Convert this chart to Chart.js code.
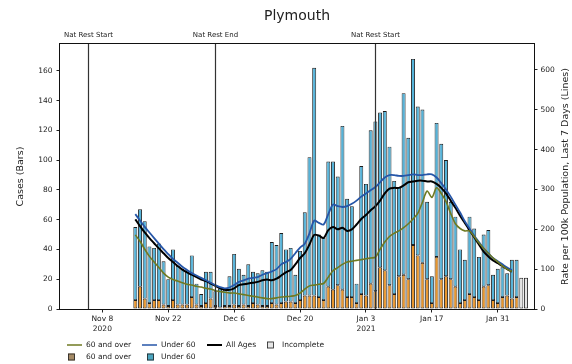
<!DOCTYPE html>
<html lang="en">
<head>
<meta charset="UTF-8">
<title>Plymouth</title>
<script src="https://cdn.jsdelivr.net/npm/chart.js"></script>
<style>
  body { margin: 0; background: #fff; }
  #wrap { position: relative; width: 572px; height: 364px; }
</style>
</head>
<body>
<div id="wrap"><canvas id="plymouthChart"></canvas></div>
<script>
// daily specimen dates (complete days)
const dates = [
  '2020-11-15','2020-11-16','2020-11-17','2020-11-18','2020-11-19','2020-11-20','2020-11-21','2020-11-22',
  '2020-11-23','2020-11-24','2020-11-25','2020-11-26','2020-11-27','2020-11-28','2020-11-29','2020-11-30',
  '2020-12-01','2020-12-02','2020-12-03','2020-12-04','2020-12-05','2020-12-06','2020-12-07','2020-12-08',
  '2020-12-09','2020-12-10','2020-12-11','2020-12-12','2020-12-13','2020-12-14','2020-12-15','2020-12-16',
  '2020-12-17','2020-12-18','2020-12-19','2020-12-20','2020-12-21','2020-12-22','2020-12-23','2020-12-24',
  '2020-12-25','2020-12-26','2020-12-27','2020-12-28','2020-12-29','2020-12-30','2020-12-31','2021-01-01',
  '2021-01-02','2021-01-03','2021-01-04','2021-01-05','2021-01-06','2021-01-07','2021-01-08','2021-01-09',
  '2021-01-10','2021-01-11','2021-01-12','2021-01-13','2021-01-14','2021-01-15','2021-01-16','2021-01-17',
  '2021-01-18','2021-01-19','2021-01-20','2021-01-21','2021-01-22','2021-01-23','2021-01-24','2021-01-25',
  '2021-01-26','2021-01-27','2021-01-28','2021-01-29','2021-01-30','2021-01-31','2021-02-01','2021-02-02',
  '2021-02-03','2021-02-04'
];

// cases per day (bars)
const over60Cases = [6,15,7,4,6,6,3,2,6,3, 3,3,8,3,2,4,7,2,1,2, 2,3,2,3,2,4,3,2,2,4,
  3,4,5,5,4,6,9,9,9,8, 6,15,13,16,13,8,8,4,10,9, 17,12,28,26,16,10,22,23,20,43,
  36,31,20,4,35,20,22,20,15,4, 6,10,8,6,15,16,6,4,8,9, 7,8];
const under60Cases = [49,52,52,38,35,38,29,18,34,26, 24,23,28,14,8,21,18,10,13,11, 20,34,25,20,28,21,21,24,23,41,
  40,47,35,36,19,33,56,93,153,42, 42,84,86,73,110,66,61,13,86,75, 103,114,104,107,93,76,60,122,95,125,
  100,103,52,18,90,91,78,52,47,36, 27,52,46,29,35,37,17,23,20,15, 26,25];

// incomplete days
const incompleteDates = ['2021-02-05', '2021-02-06'];
const incompleteCases = [21, 21];

// rate per 100k, last 7 days (lines)
const over60Rate = [186,170,150,132,118,104,90,80,74,70, 66,62,60,57,55,52,50,46,44,42, 40,40,38,36,34,32,30,28,26,26,
  28,30,31,32,34,40,50,58,60,62, 64,80,96,104,112,118,120,122,124,126, 128,130,150,168,182,190,196,204,214,226,
  240,268,296,280,304,290,270,240,214,202, 196,196,182,166,152,140,128,118,108,100, 94,null];
const under60Rate = [238,222,206,192,178,164,150,138,126,116, 106,98,90,84,78,72,66,60,55,52, 54,60,68,72,76,78,80,86,90,94,
  100,112,118,126,140,154,164,190,222,216, 212,238,262,258,256,258,264,272,282,290, 298,306,318,330,336,336,334,334,336,338,
  336,336,338,338,330,316,300,282,262,242, 220,202,184,168,152,140,128,120,112,104, 98,null];
const allAgesRate = [225,208,192,178,165,152,140,128,118,108, 99,92,86,80,74,70,64,58,52,48, 48,52,60,62,64,66,68,72,74,72,
  76,84,92,98,112,128,140,162,186,184, 178,198,206,200,204,196,200,212,226,236, 248,258,272,290,302,304,304,310,318,320,
  322,322,320,320,314,304,290,272,254,234, 216,198,180,162,144,132,122,115,108,100, 94,null];

// axes
const xTickDates = ['2020-11-08','2020-11-22','2020-12-06','2020-12-20','2021-01-03','2021-01-17','2021-01-31'];
const xTickLabels = [['Nov 8','2020'], 'Nov 22', 'Dec 6', 'Dec 20', ['Jan 3','2021'], 'Jan 17', 'Jan 31'];
const caseTicks = [0,20,40,60,80,100,120,140,160];
const rateTicks = [0,100,200,300,400,500,600];

// national restrictions
const restrictionDates = ['2020-11-05', '2020-12-02', '2021-01-05'];
const restrictionLabels = ['Nat Rest Start', 'Nat Rest End', 'Nat Rest Start'];

const FONT = 'DejaVu Sans';
const TXT = '#222';
const colOver = '#e8962e';
const colUnder = '#55b3d9';
const colIncomplete = '#e6e6e6';
const lineOver = '#6f7a22';
const lineUnder = '#2656a8';

const dayNum = s => (Date.parse(s) - Date.parse('2020-11-08')) / 864e5;
const toPoints = (ds, arr) => arr.map((v, i) => ({x: dayNum(ds[i]), y: v}));

Chart.defaults.font.family = FONT;
Chart.defaults.color = TXT;

const decorations = {
  id: 'decorations',
  afterDatasetsDraw(chart) {
    const {ctx, chartArea: a, scales: {x}} = chart;
    ctx.save();
    // restriction lines and labels
    ctx.strokeStyle = '#333';
    ctx.lineWidth = 1.2;
    ctx.fillStyle = TXT;
    ctx.font = '7px ' + FONT;
    ctx.textAlign = 'center';
    ctx.textBaseline = 'middle';
    restrictionDates.forEach((d, i) => {
      const px = Math.round(x.getPixelForValue(dayNum(d))) + 0.5;
      ctx.beginPath();
      ctx.moveTo(px, a.top);
      ctx.lineTo(px, a.bottom);
      ctx.stroke();
      ctx.fillText(restrictionLabels[i], px, a.top - 9);
    });
    // frame
    ctx.strokeStyle = '#111';
    ctx.lineWidth = 1;
    ctx.strokeRect(a.left - 0.5, a.top - 0.5, a.right - a.left + 1, a.bottom - a.top + 1);
    ctx.restore();
  },
  afterDraw(chart) {
    const {ctx, chartArea: a} = chart;
    ctx.save();
    ctx.fillStyle = TXT;
    ctx.textBaseline = 'middle';
    // title
    ctx.textAlign = 'center';
    ctx.font = '14px ' + FONT;
    ctx.fillText('Plymouth', (a.left + a.right) / 2, 16);
    // axis titles
    const midY = (a.top + a.bottom) / 2;
    ctx.font = '9.5px ' + FONT;
    ctx.save();
    ctx.translate(21, midY);
    ctx.rotate(-Math.PI / 2);
    ctx.fillText('Cases (Bars)', 0, 0);
    ctx.restore();
    ctx.save();
    ctx.translate(566, midY);
    ctx.rotate(-Math.PI / 2);
    ctx.fillText('Rate per 100k Population, Last 7 Days (Lines)', 0, 0);
    ctx.restore();

    // legend
    ctx.font = '7.5px ' + FONT;
    ctx.textAlign = 'left';
    const r1 = 345, r2 = 357;
    const legLine = (x0, y, color, w, label) => {
      ctx.strokeStyle = color;
      ctx.lineWidth = w;
      ctx.beginPath();
      ctx.moveTo(x0, y);
      ctx.lineTo(x0 + 15, y);
      ctx.stroke();
      ctx.fillText(label, x0 + 19, y);
    };
    const legBox = (x0, y, color, label, tx) => {
      ctx.fillStyle = color;
      ctx.fillRect(x0, y - 3.5, 7, 7);
      ctx.strokeStyle = '#222';
      ctx.lineWidth = 0.8;
      ctx.strokeRect(x0 + 0.5, y - 3, 6, 6);
      ctx.fillStyle = TXT;
      ctx.fillText(label, tx, y);
    };
    legLine(67, r1, lineOver, 1.5, '60 and over');
    legLine(142, r1, lineUnder, 1.5, 'Under 60');
    legLine(207, r1, '#000', 2, 'All Ages');
    legBox(267, r1, colIncomplete, 'Incomplete', 282);
    legBox(68, r2, '#a48a66', '60 and over', 86);
    legBox(147, r2, '#4ba5bf', 'Under 60', 161);
    ctx.restore();
  }
};

const barCommon = {
  type: 'bar',
  yAxisID: 'y',
  stack: 'cases',
  borderColor: '#1c1c1c',
  borderWidth: 0.9,
  borderSkipped: false,
  barPercentage: 0.84,
  categoryPercentage: 1,
  order: 2
};
const lineCommon = {
  type: 'line',
  yAxisID: 'y1',
  pointRadius: 0,
  tension: 0.3,
  fill: false,
  order: 0
};

new Chart(document.getElementById('plymouthChart'), {
  type: 'bar',
  data: {
    datasets: [
      {...barCommon, label: '60 and over', data: toPoints(dates, over60Cases), backgroundColor: colOver},
      {...barCommon, label: 'Under 60', data: toPoints(dates, under60Cases), backgroundColor: colUnder},
      {...barCommon, label: 'Incomplete', data: toPoints(incompleteDates, incompleteCases), backgroundColor: colIncomplete},
      {...lineCommon, label: '60 and over', data: toPoints(dates, over60Rate), borderColor: lineOver, borderWidth: 1.6},
      {...lineCommon, label: 'Under 60', data: toPoints(dates, under60Rate), borderColor: lineUnder, borderWidth: 1.8},
      {...lineCommon, label: 'All Ages', data: toPoints(dates, allAgesRate), borderColor: '#000', borderWidth: 2}
    ]
  },
  options: {
    responsive: true,
    maintainAspectRatio: false,
    animation: false,
    devicePixelRatio: 1,
    layout: { padding: { top: 44, left: 0, right: 0, bottom: 0 } },
    plugins: { legend: { display: false }, tooltip: { enabled: false } },
    scales: {
      x: {
        type: 'linear',
        offset: false,
        min: dayNum('2020-10-30'),
        max: dayNum('2021-02-07') + 0.7,
        afterBuildTicks: s => { s.ticks = xTickDates.map(d => ({value: dayNum(d)})); },
        ticks: {
          autoSkip: false, maxRotation: 0, padding: 1.5, color: TXT,
          font: { size: 7.5, lineHeight: 1.3 },
          callback: (v, i) => xTickLabels[i]
        },
        grid: { offset: false, drawOnChartArea: false, tickLength: 3.5, tickColor: '#222' },
        border: { display: false },
        afterFit: s => { s.height = 55; }
      },
      y: {
        position: 'left',
        stacked: true,
        min: 0,
        max: 178,
        afterBuildTicks: s => { s.ticks = caseTicks.map(v => ({value: v})); },
        ticks: { padding: 4, color: TXT, font: { size: 7.5 } },
        grid: { drawOnChartArea: false, tickLength: 3.5, tickColor: '#222' },
        border: { display: false },
        afterFit: s => { s.width = 60; }
      },
      y1: {
        position: 'right',
        min: 0,
        max: 665,
        afterBuildTicks: s => { s.ticks = rateTicks.map(v => ({value: v})); },
        ticks: { padding: 3, color: TXT, font: { size: 7.5 } },
        grid: { drawOnChartArea: false, tickLength: 3.5, tickColor: '#222' },
        border: { display: false },
        afterFit: s => { s.width = 38; }
      }
    }
  },
  plugins: [decorations]
});
</script>
</body>
</html>
